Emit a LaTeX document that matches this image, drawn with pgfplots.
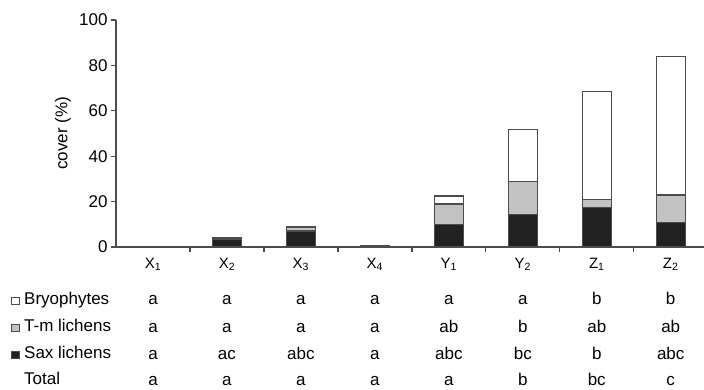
\documentclass[border=0pt]{standalone}
\usepackage{fontspec}
\setmainfont{Liberation Sans}
\usepackage{pgfplots}
\pgfplotsset{compat=1.18}
\definecolor{edge}{gray}{0.3}
\definecolor{tmgrey}{gray}{0.76}
\definecolor{saxblk}{gray}{0.13}
\begin{document}
\begin{tikzpicture}[font=\fontsize{17}{20}\selectfont]
\begin{axis}[
  at={(0pt,0pt)}, anchor=south west,
  scale only axis, width=588pt, height=227pt,
  xmin=-0.5, xmax=7.45, ymin=0, ymax=100,
  axis x line=bottom, axis y line=left,
  axis line style={-, line width=1.4pt, edge},
  ybar stacked, bar width=29pt,
  xtick={0.5,1.5,2.5,3.5,4.5,5.5,6.5},
  xticklabels={},
  extra x ticks={0,...,7},
  extra x tick labels={X\textsubscript{1},X\textsubscript{2},X\textsubscript{3},X\textsubscript{4},Y\textsubscript{1},Y\textsubscript{2},Z\textsubscript{1},Z\textsubscript{2}},
  extra x tick style={xtick style={draw=none}, tick label style={font=\fontsize{15}{18}\selectfont, anchor=base, yshift=-16pt}},
  ytick={0,20,...,100},
  tick align=outside, major tick length=5pt,
  xtick style={draw=edge, line width=1.3pt},
  ytick style={draw=edge, line width=1.3pt},
  y tick label style={font=\fontsize{17}{20}\selectfont},
  /pgf/number format/assume math mode=true,
  ylabel={cover (\%)},
  ylabel style={at={(axis description cs:-0.09,0.5)}, anchor=center, font=\fontsize{17}{20}\selectfont},
  clip=false,
]
\addplot+[draw=edge, line width=1.3pt, fill=saxblk] coordinates {(0,0) (1,3.5) (2,7.0) (3,0.5) (4,9.8) (5,14.4) (6,17.5) (7,10.9)};
\addplot+[draw=edge, line width=1.3pt, fill=tmgrey] coordinates {(0,0) (1,0.4) (2,1.5) (3,0) (4,9.2) (5,14.4) (6,3.5) (7,12.0)};
\addplot+[draw=edge, line width=1.3pt, fill=white] coordinates {(0,0) (1,0) (2,0.3) (3,0) (4,3.5) (5,23.0) (6,47.6) (7,61.0)};
% letters table
\node[anchor=base] at ([yshift=-58pt]axis cs:0,0) {a};
\node[anchor=base] at ([yshift=-58pt]axis cs:1,0) {a};
\node[anchor=base] at ([yshift=-58pt]axis cs:2,0) {a};
\node[anchor=base] at ([yshift=-58pt]axis cs:3,0) {a};
\node[anchor=base] at ([yshift=-58pt]axis cs:4,0) {a};
\node[anchor=base] at ([yshift=-58pt]axis cs:5,0) {a};
\node[anchor=base] at ([yshift=-58pt]axis cs:6,0) {b};
\node[anchor=base] at ([yshift=-58pt]axis cs:7,0) {b};
\node[anchor=base] at ([yshift=-85pt]axis cs:0,0) {a};
\node[anchor=base] at ([yshift=-85pt]axis cs:1,0) {a};
\node[anchor=base] at ([yshift=-85pt]axis cs:2,0) {a};
\node[anchor=base] at ([yshift=-85pt]axis cs:3,0) {a};
\node[anchor=base] at ([yshift=-85pt]axis cs:4,0) {ab};
\node[anchor=base] at ([yshift=-85pt]axis cs:5,0) {b};
\node[anchor=base] at ([yshift=-85pt]axis cs:6,0) {ab};
\node[anchor=base] at ([yshift=-85pt]axis cs:7,0) {ab};
\node[anchor=base] at ([yshift=-112pt]axis cs:0,0) {a};
\node[anchor=base] at ([yshift=-112pt]axis cs:1,0) {ac};
\node[anchor=base] at ([yshift=-112pt]axis cs:2,0) {abc};
\node[anchor=base] at ([yshift=-112pt]axis cs:3,0) {a};
\node[anchor=base] at ([yshift=-112pt]axis cs:4,0) {abc};
\node[anchor=base] at ([yshift=-112pt]axis cs:5,0) {bc};
\node[anchor=base] at ([yshift=-112pt]axis cs:6,0) {b};
\node[anchor=base] at ([yshift=-112pt]axis cs:7,0) {abc};
\node[anchor=base] at ([yshift=-138pt]axis cs:0,0) {a};
\node[anchor=base] at ([yshift=-138pt]axis cs:1,0) {a};
\node[anchor=base] at ([yshift=-138pt]axis cs:2,0) {a};
\node[anchor=base] at ([yshift=-138pt]axis cs:3,0) {a};
\node[anchor=base] at ([yshift=-138pt]axis cs:4,0) {a};
\node[anchor=base] at ([yshift=-138pt]axis cs:5,0) {b};
\node[anchor=base] at ([yshift=-138pt]axis cs:6,0) {bc};
\node[anchor=base] at ([yshift=-138pt]axis cs:7,0) {c};
\end{axis}
% row labels (pixel x -> x-116, pixel y -> 247-y)
\node[anchor=base west, inner sep=0pt] at (-92pt,-58pt) {Bryophytes};
\node[anchor=base west, inner sep=0pt] at (-92pt,-85pt) {T-m lichens};
\node[anchor=base west, inner sep=0pt] at (-92pt,-112pt) {Sax lichens};
\node[anchor=base west, inner sep=0pt] at (-92pt,-138pt) {Total};
\draw[edge, line width=1pt, fill=white] (-104pt,-58pt) rectangle (-96.5pt,-50.5pt);
\draw[edge, line width=1pt, fill=tmgrey] (-104pt,-85pt) rectangle (-96.5pt,-77.5pt);
\draw[edge, line width=1pt, fill=saxblk] (-104pt,-112pt) rectangle (-96.5pt,-104.5pt);
\pgfresetboundingbox
\path (-116pt,-143pt) rectangle (588pt,247pt);
\end{tikzpicture}
\end{document}
